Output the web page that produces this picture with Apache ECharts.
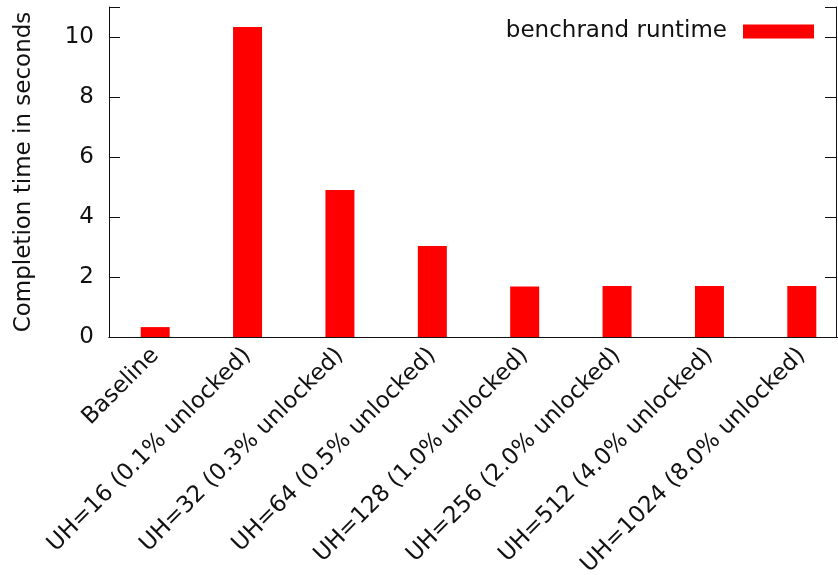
<!DOCTYPE html>
<html>
<head>
<meta charset="utf-8">
<script src="https://cdn.jsdelivr.net/npm/echarts@6/dist/echarts.min.js"></script>
<style>
  html, body { margin: 0; padding: 0; background: #fff; }
  #chart { width: 838px; height: 575px; }
</style>
</head>
<body>
<div id="chart"></div>
<script>
// categories (x axis) and measured runtimes in seconds
const categories = [
  'Baseline',
  'UH=16 (0.1% unlocked)',
  'UH=32 (0.3% unlocked)',
  'UH=64 (0.5% unlocked)',
  'UH=128 (1.0% unlocked)',
  'UH=256 (2.0% unlocked)',
  'UH=512 (4.0% unlocked)',
  'UH=1024 (8.0% unlocked)'
]
const runtime = [0.33, 10.33, 4.9, 3.03, 1.68, 1.7, 1.7, 1.7]

const font = 'DejaVu Sans'
const ink = '#111'

const chart = echarts.init(document.getElementById('chart'))

const option = {
  animation: false,
  grid: {
    left: 109,
    top: 7,
    width: 739,
    bottom: 238,
    outerBoundsMode: 'none'
  },
  legend: {
    data: ['benchrand runtime'],
    right: 19,
    top: 15,
    align: 'right',
    icon: 'rect',
    itemWidth: 71,
    itemHeight: 14,
    textStyle: { fontFamily: font, fontSize: 23, color: ink, padding: [0, 11, 0, 0] }
  },
  xAxis: [
    {
      type: 'category',
      data: categories,
      position: 'bottom',
      axisLine: { lineStyle: { color: ink, width: 1 } },
      axisTick: { inside: true, alignWithLabel: true, length: 11, lineStyle: { color: ink } },
      axisLabel: {
        interval: 0,
        rotate: 45,
        margin: 15,
        fontFamily: font,
        fontSize: 23,
        color: ink
      }
    },
    {
      type: 'category',
      data: categories,
      position: 'top',
      axisLine: { lineStyle: { color: ink, width: 1 } },
      axisTick: { inside: true, alignWithLabel: true, length: 11, lineStyle: { color: ink } },
      axisLabel: { show: false }
    }
  ],
  yAxis: [
    {
      type: 'value',
      min: 0,
      max: 11,
      interval: 2,
      position: 'left',
      name: 'Completion time in seconds',
      nameLocation: 'middle',
      nameGap: 73,
      nameTextStyle: { fontFamily: font, fontSize: 23, color: ink },
      splitLine: { show: false },
      axisLine: { show: true, lineStyle: { color: ink, width: 1 } },
      axisTick: { show: true, inside: true, length: 11, lineStyle: { color: ink } },
      axisLabel: {
        margin: 15,
        fontFamily: font,
        fontSize: 23,
        color: ink,
        formatter: v => (v % 2 === 0 ? String(v) : '')
      }
    },
    {
      type: 'value',
      min: 0,
      max: 11,
      interval: 2,
      position: 'right',
      offset: -12,
      splitLine: { show: false },
      axisLine: { show: true, lineStyle: { color: ink, width: 1 } },
      axisTick: { show: true, inside: true, length: 11, lineStyle: { color: ink } },
      axisLabel: { show: false }
    }
  ],
  series: [
    {
      name: 'benchrand runtime',
      type: 'bar',
      xAxisIndex: 0,
      yAxisIndex: 0,
      barWidth: 29,
      itemStyle: { color: '#ff0000' },
      data: runtime
    }
  ]
}

chart.setOption(option)
</script>
</body>
</html>
